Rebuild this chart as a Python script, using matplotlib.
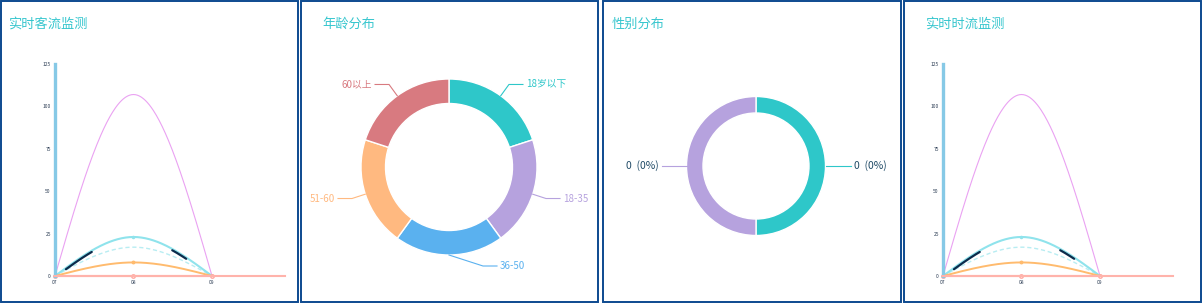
import numpy as np
import matplotlib
matplotlib.use("Agg")
import matplotlib.pyplot as plt
from matplotlib.patches import Rectangle

plt.rcParams['font.family'] = ['Noto Sans CJK SC', 'DejaVu Sans']

# data
hours = ['07', '08', '09']
y_ticks = [0, 25, 50, 75, 100, 125]
flow_pink = [0, 107, 0]
flow_cyan = [0, 23, 0]
flow_dash = [0, 17, 0]
flow_orange = [0, 8, 0]
flow_zero = [0, 0, 0]

age_labels = ['18岁以下', '18-35', '36-50', '51-60', '60以上']
age_values = [1, 1, 1, 1, 1]
age_colors = ['#2ec7c9', '#b6a2de', '#5ab1ef', '#ffb980', '#d87a80']

gender_counts = [0, 0]
gender_colors = ['#2ec7c9', '#b6a2de']

titles = ['实时客流监测', '年龄分布', '性别分布', '实时时流监测']

W, H = 1203, 304
fig = plt.figure(figsize=(W / 100, H / 100), dpi=100)

# background: panel frames + titles (pixel coords, y down)
bg = fig.add_axes([0, 0, 1, 1])
bg.set_xlim(0, W)
bg.set_ylim(H, 0)
bg.axis('off')
panels = [(1, 298), (301, 598), (603, 901), (904, 1201)]
title_x = [8, 322, 612, 925]
for (x0, x1), tx, t in zip(panels, title_x, titles):
    bg.add_patch(Rectangle((x0, 1), x1 - x0, 301, fill=False,
                           edgecolor='#0d4a8f', lw=1.4))
    bg.text(tx, 24, t, color='#36c6ce', fontsize=9.5, va='center', ha='left')


def smooth(vals, k=1.5, n=80):
    vals = np.asarray(vals, float)
    m = np.zeros(len(vals))
    for j in range(len(vals)):
        if j == 0:
            m[j] = (vals[1] - vals[0]) * k
        elif j == len(vals) - 1:
            m[j] = (vals[j] - vals[j - 1]) * k
        else:
            a, b = vals[j] - vals[j - 1], vals[j + 1] - vals[j]
            m[j] = 0 if a * b <= 0 else (a + b) / 2
    xs, ys = [], []
    for i in range(len(vals) - 1):
        t = np.linspace(0, 1, n)
        h00 = 2 * t**3 - 3 * t**2 + 1
        h10 = t**3 - 2 * t**2 + t
        h01 = -2 * t**3 + 3 * t**2
        h11 = t**3 - t**2
        xs.append(i + t)
        ys.append(h00 * vals[i] + h10 * m[i] + h01 * vals[i + 1] + h11 * m[i + 1])
    return np.concatenate(xs), np.concatenate(ys)


def line_chart(left_px):
    ax = fig.add_axes([left_px / W, (H - 276) / H, 230 / W, 212 / H])
    ax.set_xlim(0, 2.93)
    ax.set_ylim(0, 125)
    ax.patch.set_alpha(0)
    for s in ['top', 'right']:
        ax.spines[s].set_visible(False)
    ax.spines['left'].set_color('#86c9e6')
    ax.spines['left'].set_linewidth(2.4)
    ax.spines['bottom'].set_color('#ffb3ab')
    ax.spines['bottom'].set_linewidth(1.5)
    ax.set_xticks(range(len(hours)))
    ax.set_xticklabels(hours)
    ax.set_yticks(y_ticks)
    ax.tick_params(length=0, labelsize=3.6, colors='#2d3e55', pad=3)

    x, y = smooth(flow_pink)
    ax.plot(x, y, color='#eaa2f2', lw=0.8)
    x, y = smooth(flow_dash)
    ax.plot(x, y, color='#b8edf2', lw=1.0, ls=(0, (3, 2)))
    x, y = smooth(flow_cyan)
    ax.plot(x, y, color='#8fe3ec', lw=1.5)
    ax.plot(range(3), flow_cyan, 'o', ms=1.5, color='#8fe3ec')
    dark = np.where(((x > 0.13) & (x < 0.47)) | ((x > 1.49) & (x < 1.68)), y - 0.8, np.nan)
    ax.plot(x, dark, color='#0b2c4c', lw=1.6, solid_capstyle='round')
    x, y = smooth(flow_orange)
    ax.plot(x, y, color='#ffbb6e', lw=1.4)
    ax.plot(range(3), flow_orange, 'o', ms=1.8, color='#ffbb6e')
    ax.plot(range(3), flow_zero, color='#ffa9a1', lw=1.5, marker='o', ms=2.5,
            mfc='white', mec='#ffa9a1', clip_on=False)
    return ax


line_chart(55)
line_chart(943)

# donuts (pixel coords, y up)
pa = fig.add_axes([0, 0, 1, 1])
pa.patch.set_alpha(0)


def donut(values, colors, labels, cx, cy, r, inner, text_colors, len1, len2, bend, fs):
    shares = values if sum(values) > 0 else [1] * len(values)
    wedges, _ = pa.pie(shares, colors=colors, center=(cx, H - cy), radius=r,
                       startangle=90, counterclock=False,
                       wedgeprops=dict(width=r - inner, edgecolor='white', lw=1))
    for w, lab, c, l1, l2, b in zip(wedges, labels, text_colors, len1, len2, bend):
        ang = np.deg2rad((w.theta1 + w.theta2) / 2)
        ca, sa = np.cos(ang), np.sin(ang)
        side = 1 if ca >= -1e-6 else -1
        p0 = (cx + r * ca, H - cy + r * sa)
        p1 = (cx + (r + l1) * ca + b, H - cy + (r + l1) * sa)
        p2 = (p1[0] + side * l2, p1[1])
        pa.plot([p0[0], p1[0], p2[0]], [p0[1], p1[1], p2[1]], color=w.get_facecolor(), lw=0.8)
        pa.text(p2[0] + side * 3, p2[1], lab, color=c, fontsize=fs,
                ha='left' if side > 0 else 'right', va='center')


donut(age_values, age_colors, age_labels, 449, 167, 88, 63.5,
      age_colors, [14, 14, 11, 14, 14], [14, 14, 14, 14, 14], [0, 0, 34, 0, 0], 7)
g_labels = ['%d  (%d%%)' % (v, 0 if sum(gender_counts) == 0 else round(100 * v / sum(gender_counts)))
            for v in gender_counts]
donut(gender_counts, gender_colors, g_labels, 756, 166, 69.5, 53,
      ['#1f4a66', '#1f4a66'], [12, 12], [13, 13], [0, 0], 7.5)

pa.set_aspect('auto')
pa.set_xlim(0, W)
pa.set_ylim(0, H)
pa.axis('off')

fig.savefig('out.png', dpi=100)
